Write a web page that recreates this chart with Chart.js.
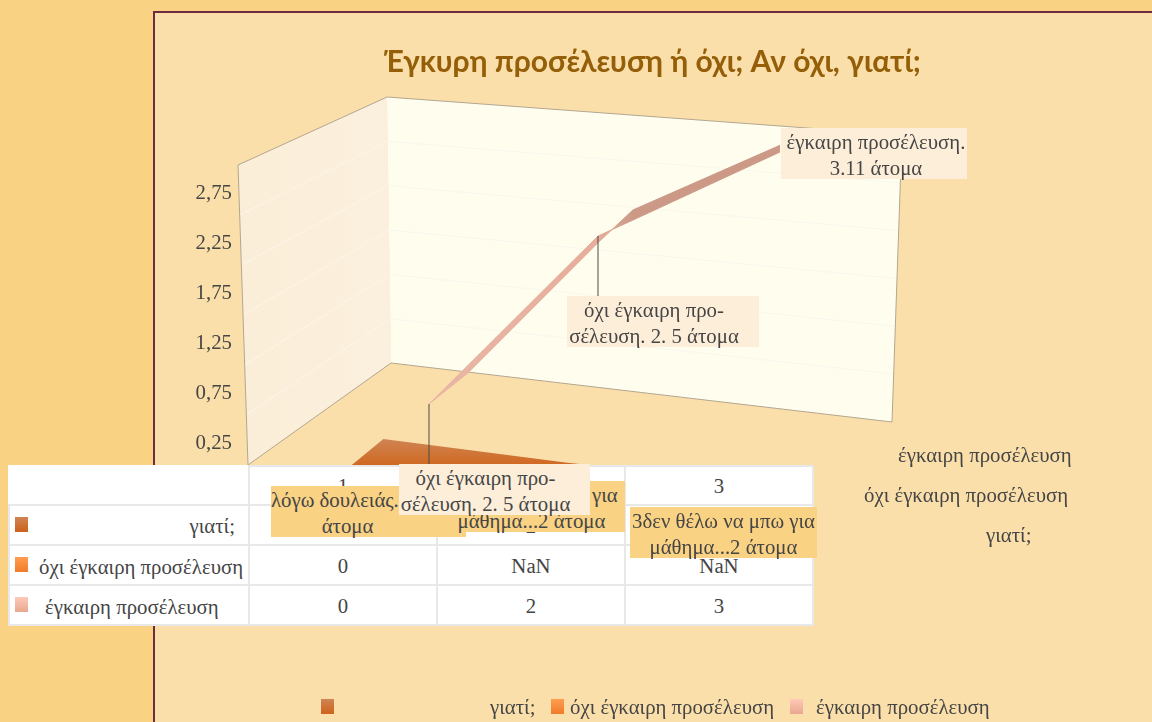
<!DOCTYPE html>
<html lang="el">
<head>
<meta charset="utf-8">
<title>Έγκυρη προσέλευση ή όχι</title>
<script src="https://cdn.jsdelivr.net/npm/chart.js@4"></script>
<style>
  html, body { margin: 0; padding: 0; width: 1152px; height: 722px; overflow: hidden; background: #f9d284; }
  body { position: relative; font-family: 'Liberation Serif', serif; font-size: 20.8px; color: #454545; }
  #panel { position: absolute; left: 153px; top: 11px; right: 0; bottom: 0; background: #fbdfab; border-left: 2px solid #6f2c3f; border-top: 2px solid #6f2c3f; }
  #chart { position: absolute; left: 153px; top: 0; }
  #table { position: absolute; left: 8px; top: 465px; border-collapse: collapse; table-layout: fixed; background: #fff; }
  #table td { width: 186px; height: 37px; padding: 1px 0 0; border: 2px solid #e8e8e8; text-align: center; }
  #table tr:first-child td { height: 37px; padding: 0; }
  #table td.name { width: 238px; text-align: left; position: relative; white-space: nowrap; }
  #table td.blank { border-top: 0; border-left: 0; }
  .swatch { position: absolute; width: 13px; height: 15px; }
  .why { background: linear-gradient(#cf8454, #cd621a); }
  .late { background: linear-gradient(#ff9d50, #f07c2a); }
  .ontime { background: linear-gradient(#ffc9b8, #e8a78f); }
  .note, .txt { position: absolute; white-space: nowrap; }
  .note { text-align: center; line-height: 25.5px; box-sizing: border-box; }
  .note > span { display: block; position: relative; top: 1px; }
  .pale { background: #fdeed9; }
  .gold { background: #f9d284; }
</style>
</head>
<body>
<div id="panel"></div>
<canvas id="chart" width="999" height="722"></canvas>
<table id="table"></table>
<div id="overlay"></div>
<script>
const categories = [1, 2, 3]
const whyValues = [1, 2, 2]
const lateValues = [0, NaN, NaN]
const onTimeValues = [0, 2, 3]

const yTicks = [0.25, 0.75, 1.25, 1.75, 2.25, 2.75]
const yTickLabels = ['0,25', '0,75', '1,25', '1,75', '2,25', '2,75']

const ribbonX = [1, 1.222, 1.963, 2.162, 3]
const ribbonFrontY = [0, 0.46, 2, 2.19, 3]
const ribbonBackY = [0, 0.37, 1.92, 2.31, 3.08]
const LEADER_POINTS = [0, 2]

// floor patch of the "why" series
const whyAreaX = [0.56, 0.74, 1.8, 1.92]
const whyAreaY = [0.03, 0.29, 0.05, 0.03]

const LEFT = 153
const TEXT = '#454545'
const FONT = "'Liberation Serif', serif"

const seriesNames = ['γιατί;', 'όχι έγκαιρη προσέλευση', 'έγκαιρη προσέλευση']

function poly(ctx, pts, fill, stroke) {
  ctx.beginPath()
  pts.forEach((p, i) => i ? ctx.lineTo(p[0] - LEFT, p[1]) : ctx.moveTo(p[0] - LEFT, p[1]))
  if (fill) { ctx.closePath(); ctx.fillStyle = fill; ctx.fill() }
  if (stroke) { ctx.strokeStyle = stroke; ctx.lineWidth = 1; ctx.stroke() }
}

// side wall and back wall behind the series
const wallsPlugin = {
  id: 'walls',
  beforeDatasetsDraw(chart) {
    const ctx = chart.ctx
    const edge = '#b3a68f'
    const a = [238, 165], b = [387, 97], c = [391, 363], d = [248, 465], e = [902, 135], f = [892, 422]
    const side = ctx.createLinearGradient(238 - LEFT, 0, 391 - LEFT, 0)
    side.addColorStop(0, '#fbeed8')
    side.addColorStop(1, '#fbf0de')
    poly(ctx, [a, b, c, d], side)
    poly(ctx, [b, e, f, c], '#fffeee')
    for (let i = 1; i < 6; i++) {
      const t = i / 6
      const front = [a[0] + (d[0] - a[0]) * t, a[1] + (d[1] - a[1]) * t]
      const back = [b[0] + (c[0] - b[0]) * t, b[1] + (c[1] - b[1]) * t]
      const right = [e[0] + (f[0] - e[0]) * t, e[1] + (f[1] - e[1]) * t]
      poly(ctx, [front, back], null, '#fdf6ea')
      poly(ctx, [back, right], null, '#f8f7ef')
    }
    poly(ctx, [d, a, b, e, f], null, edge)
    poly(ctx, [d, c, f], null, edge)
  },
  afterDatasetsDraw(chart) {
    const ctx = chart.ctx
    const pts = chart.getDatasetMeta(0).data
    const first = pts[LEADER_POINTS[0]], second = pts[LEADER_POINTS[1]]
    ctx.strokeStyle = '#4a4a44'
    ctx.lineWidth = 1
    ctx.beginPath()
    ctx.moveTo(first.x, first.y); ctx.lineTo(first.x, 465)
    ctx.moveTo(second.x, second.y); ctx.lineTo(second.x, 296)
    ctx.stroke()
  },
}

function whyGradient(c) {
  const g = c.chart.ctx.createLinearGradient(0, 439, 0, 466)
  g.addColorStop(0, '#cf8454')
  g.addColorStop(1, '#d0681f')
  return g
}

// lighter on the long rising part, darker after the fold
function ribbonGradient(c) {
  const g = c.chart.ctx.createLinearGradient(429 - LEFT, 0, 780 - LEFT, 0)
  g.addColorStop(0, '#e9b7a5')
  g.addColorStop(0.48, '#e6ae9b')
  g.addColorStop(0.58, '#cb9986')
  g.addColorStop(1, '#cb9986')
  return g
}

new Chart(document.getElementById('chart'), {
  type: 'line',
  plugins: [wallsPlugin],
  data: {
    datasets: [
      {
        label: seriesNames[2],
        data: ribbonFrontY.map((v, i) => ({ x: ribbonX[i], y: v })),
        yAxisID: 'yRibbon',
        borderWidth: 1,
        borderColor: ribbonGradient,
        pointRadius: 0,
        fill: 1,
        backgroundColor: ribbonGradient,
      },
      {
        label: seriesNames[2] + ' (πίσω)',
        data: ribbonBackY.map((v, i) => ({ x: ribbonX[i], y: v })),
        yAxisID: 'yRibbon',
        borderWidth: 1,
        borderColor: ribbonGradient,
        pointRadius: 0,
      },
      {
        label: seriesNames[0],
        data: whyAreaY.map((v, i) => ({ x: whyAreaX[i], y: v })),
        yAxisID: 'y',
        borderWidth: 0,
        pointRadius: 0,
        fill: 'start',
        backgroundColor: whyGradient,
      },
    ],
  },
  options: {
    responsive: false,
    animation: false,
    layout: { padding: { left: 0, right: 0, bottom: 256, top: 0 } },
    plugins: {
      legend: { display: false },
      tooltip: { enabled: false },
      title: {
        display: true,
        text: 'Έγκυρη προσέλευση ή όχι; Αν όχι, γιατί;',
        color: '#945f08',
        font: { family: 'Lato', size: 30, weight: 'bold', lineHeight: 1.2 },
        padding: { top: 44, bottom: 60 },
      },
    },
    scales: {
      x: { type: 'linear', display: false, min: -0.077, max: 5.12 },
      y: {
        min: 0.02,
        max: 3.29,
        afterBuildTicks: s => { s.ticks = yTicks.map(v => ({ value: v })) },
        afterFit: s => { s.width = 87 },
        grid: { display: false, drawTicks: false },
        border: { display: false },
        ticks: {
          autoSkip: false,
          padding: 8,
          color: TEXT,
          font: { family: FONT, size: 20.8 },
          callback: (v, i) => yTickLabels[i],
        },
      },
      yRibbon: { type: 'linear', display: false, min: -0.738, max: 3.143 },
    },
  },
})

// data table under the plot
const rows = [
  ['why', seriesNames[0], whyValues, 224],
  ['late', seriesNames[1], lateValues, 29],
  ['ontime', seriesNames[2], onTimeValues, 35],
]
const table = document.getElementById('table')
let html = '<tr><td class="name blank"></td>' + categories.map(c => `<td>${c}</td>`).join('') + '</tr>'
rows.forEach(([cls, name, vals, off]) => {
  const label = cls === 'why'
    ? `<span style="position:absolute;right:13px;top:8px">${name}</span>`
    : `<span style="position:absolute;left:${off}px;top:9px">${name}</span>`
  html += `<tr><td class="name"><i class="swatch ${cls}" style="left:5px;top:11px"></i>${label}</td>`
    + vals.map(v => `<td>${v}</td>`).join('') + '</tr>'
})
table.innerHTML = html

// data labels and the two legends, placed as in the slide
const overlay = document.getElementById('overlay')
function note(cls, x, y, w, lines, pad) {
  const el = document.createElement('div')
  el.className = 'note ' + cls
  el.style.cssText = `left:${x}px;top:${y}px;width:${w}px;height:51px;${pad || ''}`
  el.innerHTML = lines.map(l => `<span>${l}</span>`).join('')
  overlay.appendChild(el)
}
function txt(x, y, s) {
  const el = document.createElement('div')
  el.className = 'txt'
  el.style.cssText = `left:${x}px;top:${y}px`
  el.textContent = s
  overlay.appendChild(el)
}
function swatch(cls, x, y) {
  const el = document.createElement('i')
  el.className = 'swatch ' + cls
  el.style.cssText = `left:${x}px;top:${y}px`
  overlay.appendChild(el)
}

note('gold', 271, 486, 195, ['<span style="display:block;text-align:left">λόγω δουλειάς...</span>', '<span style="display:block;padding-right:42px">άτομα</span>'])
note('gold', 438, 481, 187, ['δεν θέλω να μπω για', 'μάθημα...2 άτομα'])
note('gold', 630, 507, 187, ['3δεν θέλω να μπω για', 'μάθημα...2 άτομα'])
note('pale', 399, 464, 191, ['όχι έγκαιρη προ-', 'σέλευση. 2. 5 άτομα'], 'padding-right:18px')
note('pale', 567, 296, 192, ['όχι έγκαιρη προ-', 'σέλευση. 2. 5 άτομα'], 'padding-right:18px')
note('pale', 781, 128, 186, ['έγκαιρη προσέλευση.', '3.11 άτομα'], 'padding-left:4px')

txt(898, 443, seriesNames[2])
txt(864, 483, seriesNames[1])
txt(986, 523, seriesNames[0])

swatch('why', 321, 699)
txt(490, 695, seriesNames[0])
swatch('late', 551, 699)
txt(570, 695, seriesNames[1])
swatch('ontime', 790, 699)
txt(816, 695, seriesNames[2])
</script>
</body>
</html>
